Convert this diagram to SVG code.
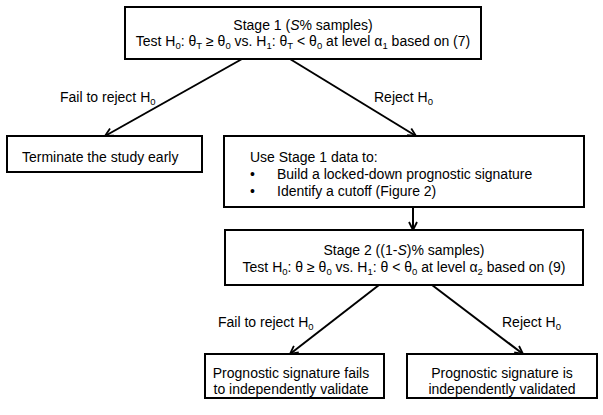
<svg xmlns="http://www.w3.org/2000/svg" width="603" height="415" viewBox="0 0 603 415">
<style>
.box{fill:#fff;stroke:#000;stroke-width:2}
.t{font-family:"Liberation Sans",Arial,sans-serif;font-size:14px;fill:#000}
.c{text-anchor:middle}
.s{font-size:9.5px}
.con{stroke:#000;stroke-width:2;fill:none;marker-end:url(#arr)}
</style>
<defs>
<marker id="arr" viewBox="0 0 10 10" refX="9" refY="5" markerWidth="10" markerHeight="10" markerUnits="userSpaceOnUse" orient="auto">
<path d="M1,1 L9,5 L1,9" fill="none" stroke="#000" stroke-width="1.8"/>
</marker>
</defs>
<rect width="603" height="415" fill="#fff"/>
<g id="connectors">
<line class="con" x1="242" y1="59" x2="105" y2="136"/>
<line class="con" x1="290" y1="59" x2="416" y2="136"/>
<line class="con" x1="413" y1="207" x2="413" y2="230"/>
<line class="con" x1="379" y1="285" x2="290" y2="354"/>
<line class="con" x1="432" y1="285" x2="523" y2="354"/>
<text class="t" x="60" y="102">Fail to reject H<tspan class="s" dy="3">0</tspan></text>
<text class="t" x="374" y="102">Reject H<tspan class="s" dy="3">0</tspan></text>
<text class="t" x="218" y="327">Fail to reject H<tspan class="s" dy="3">0</tspan></text>
<text class="t" x="502" y="327">Reject H<tspan class="s" dy="3">0</tspan></text>
</g>
<g id="stage1">
<rect class="box" x="125" y="7" width="356" height="52"/>
<text class="t c" x="303" y="30">Stage 1 (<tspan font-style="italic">S</tspan>% samples)</text>
<text class="t c" x="303" y="46">Test H<tspan class="s" dy="3">0</tspan><tspan dy="-3">: θ</tspan><tspan class="s" dy="3">T</tspan><tspan dy="-3"> ≥ θ</tspan><tspan class="s" dy="3">0</tspan><tspan dy="-3"> vs. H</tspan><tspan class="s" dy="3">1</tspan><tspan dy="-3">: θ</tspan><tspan class="s" dy="3">T</tspan><tspan dy="-3"> &lt; θ</tspan><tspan class="s" dy="3">0</tspan><tspan dy="-3"> at level α</tspan><tspan class="s" dy="3">1</tspan><tspan dy="-3"> based on (7)</tspan></text>
</g>
<g id="terminate">
<rect class="box" x="7" y="136" width="195" height="36"/>
<text class="t" x="22" y="162">Terminate the study early</text>
</g>
<g id="build">
<rect class="box" x="224" y="136" width="360" height="71"/>
<text class="t" x="250" y="162">Use Stage 1 data to:</text>
<text class="t" x="250" y="179">•</text>
<text class="t" x="277" y="179">Build a locked-down prognostic signature</text>
<text class="t" x="250" y="196">•</text>
<text class="t" x="277" y="196">Identify a cutoff (Figure 2)</text>
</g>
<g id="stage2">
<rect class="box" x="225" y="230" width="358" height="55"/>
<text class="t c" x="404" y="255">Stage 2 ((1-<tspan font-style="italic">S</tspan>)% samples)</text>
<text class="t c" x="404" y="272">Test H<tspan class="s" dy="3">0</tspan><tspan dy="-3">: θ ≥ θ</tspan><tspan class="s" dy="3">0</tspan><tspan dy="-3"> vs. H</tspan><tspan class="s" dy="3">1</tspan><tspan dy="-3">: θ &lt; θ</tspan><tspan class="s" dy="3">0</tspan><tspan dy="-3"> at level α</tspan><tspan class="s" dy="3">2</tspan><tspan dy="-3"> based on (9)</tspan></text>
</g>
<g id="fails">
<rect class="box" x="205" y="354" width="179" height="44"/>
<text class="t c" x="291" y="378">Prognostic signature fails</text>
<text class="t c" x="291" y="394">to independently validate</text>
</g>
<g id="validated">
<rect class="box" x="407" y="354" width="190" height="44"/>
<text class="t c" x="502" y="378">Prognostic signature is</text>
<text class="t c" x="502" y="394">independently validated</text>
</g>
</svg>
